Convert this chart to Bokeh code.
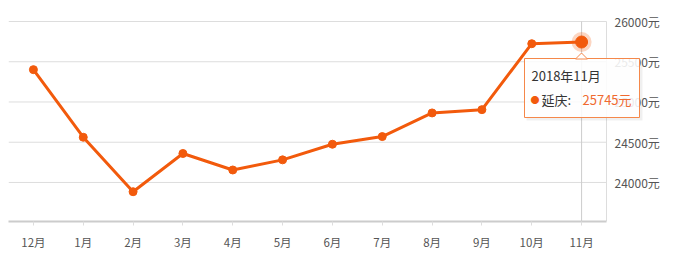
from bokeh.plotting import figure
from bokeh.models import (Range1d, FixedTicker, LinearAxis, Label, BoxAnnotation,
                          PolyAnnotation, ColumnDataSource)
from bokeh.embed import file_html
from bokeh.resources import INLINE

months = ["12月", "1月", "2月", "3月", "4月", "5月", "6月", "7月", "8月", "9月", "10月", "11月"]
prices = [25402, 24562, 23885, 24360, 24155, 24281, 24475, 24570, 24864, 24905, 25724, 25745]
y_ticks = [24000, 24500, 25000, 25500, 26000]
tooltip_title = "2018年11月"
series_name = "延庆"

ORANGE = "#f25a0c"
FONT = "Noto Sans CJK SC"

W, H = 674, 255
FL, FB = 8, 221                  # frame left / bottom in canvas px
PLOT_RIGHT, PLOT_TOP = 606, 21   # right / top edge of the value area
n = len(months)
idx = list(range(n))
x_lo, x_hi = -0.5, n - 0.5
x_end = x_lo + n * (W - FL) / (PLOT_RIGHT - FL)
y_lo, y_top = 23515, max(y_ticks)
y_end = y_lo + (y_top - y_lo) * FB / (FB - PLOT_TOP)

p = figure(width=W, height=H, output_backend="svg", toolbar_location=None,
           x_range=Range1d(x_lo, x_end),
           y_range=Range1d(y_lo, y_end),
           x_axis_location=None, y_axis_location=None,
           min_border_left=FL, min_border_right=0, min_border_top=0, min_border_bottom=H - FB)
p.outline_line_color = None
p.background_fill_color = "white"
p.border_fill_color = "white"
p.xgrid.grid_line_color = None
p.ygrid.grid_line_color = None

# bottom category axis
xax = LinearAxis(ticker=FixedTicker(ticks=idx),
                 major_label_overrides={i: m for i, m in zip(idx, months)},
                 bounds=(x_lo, x_hi))
xax.axis_line_color = "#cccccc"
xax.axis_line_width = 2
xax.major_tick_line_color = "#dddddd"
xax.major_tick_out = 4
xax.major_tick_in = 0
xax.minor_tick_line_color = None
xax.major_label_text_font = FONT
xax.major_label_text_font_size = "11.5px"
xax.major_label_text_color = "#555555"
xax.major_label_standoff = 8
p.add_layout(xax, "below")

# horizontal grid lines limited to the category area
grid = ColumnDataSource(dict(y=y_ticks, x0=[x_lo] * len(y_ticks), x1=[x_hi] * len(y_ticks),
                             label=[f"{t}元" for t in y_ticks]))
p.segment(x0="x0", x1="x1", y0="y", y1="y", source=grid, line_color="#dddddd", line_width=1)
# right border line
p.segment(x0=[x_hi], x1=[x_hi], y0=[y_lo], y1=[y_top], line_color="#dddddd", line_width=1)
# right value labels
p.text(x=x_hi, y="y", text="label", source=grid, x_offset=8,
       text_font={"value": FONT}, text_font_size="12px", text_color="#555555",
       text_align="left", text_baseline="middle")

src = ColumnDataSource(dict(x=idx, price=prices))
last = ColumnDataSource(dict(x=idx[-1:], price=prices[-1:], y0=[y_lo], y1=[y_top]))

# crosshair
p.segment(x0="x", x1="x", y0="y0", y1="y1", source=last, line_color="#cccccc", line_width=1)

p.line("x", "price", source=src, line_color=ORANGE, line_width=3)
p.scatter("x", "price", source=src, size=8, fill_color=ORANGE, line_color=ORANGE)
p.scatter("x", "price", source=last, size=20, fill_color=ORANGE, fill_alpha=0.25, line_color=None)
p.scatter("x", "price", source=last, size=12, fill_color=ORANGE, line_color=ORANGE)

# tooltip (screen coordinates relative to frame: x from left, y from bottom)
def sx(x):
    return x - FL
def sy(y):
    return FB - y

def box(l, r, t, b, **kw):
    p.add_layout(BoxAnnotation(left=sx(l), right=sx(r), top=sy(t), bottom=sy(b),
                               left_units="screen", right_units="screen",
                               top_units="screen", bottom_units="screen",
                               level="overlay", **kw))

box(526, 642, 60, 120, fill_color="#000000", fill_alpha=0.06, line_color=None)
box(524, 639, 58, 117, fill_color="white", fill_alpha=0.88, line_color="#f5884a",
    line_alpha=1.0, line_width=1)
p.add_layout(PolyAnnotation(xs=[sx(575), sx(581), sx(587)], ys=[sy(58.5), sy(52.5), sy(58.5)],
                            xs_units="screen", ys_units="screen",
                            fill_color="white", fill_alpha=1.0, line_color="#f5884a",
                            line_alpha=1.0, level="overlay"))

def lab(text, x, y, color="#333333", size="13px"):
    p.add_layout(Label(x=sx(x), y=sy(y), x_units="screen", y_units="screen", text=text,
                       text_font=FONT, text_font_size=size, text_color=color,
                       text_align="left", text_baseline="middle", level="overlay"))

lab(tooltip_title, 531, 75)
lab("●", 530, 98.5, color=ORANGE, size="9px")
lab(series_name + ":", 541, 98.5)
lab(f"{prices[-1]}元", 582, 98.5, color="#f06a30")

open("out.html", "w").write(file_html(p, INLINE))
